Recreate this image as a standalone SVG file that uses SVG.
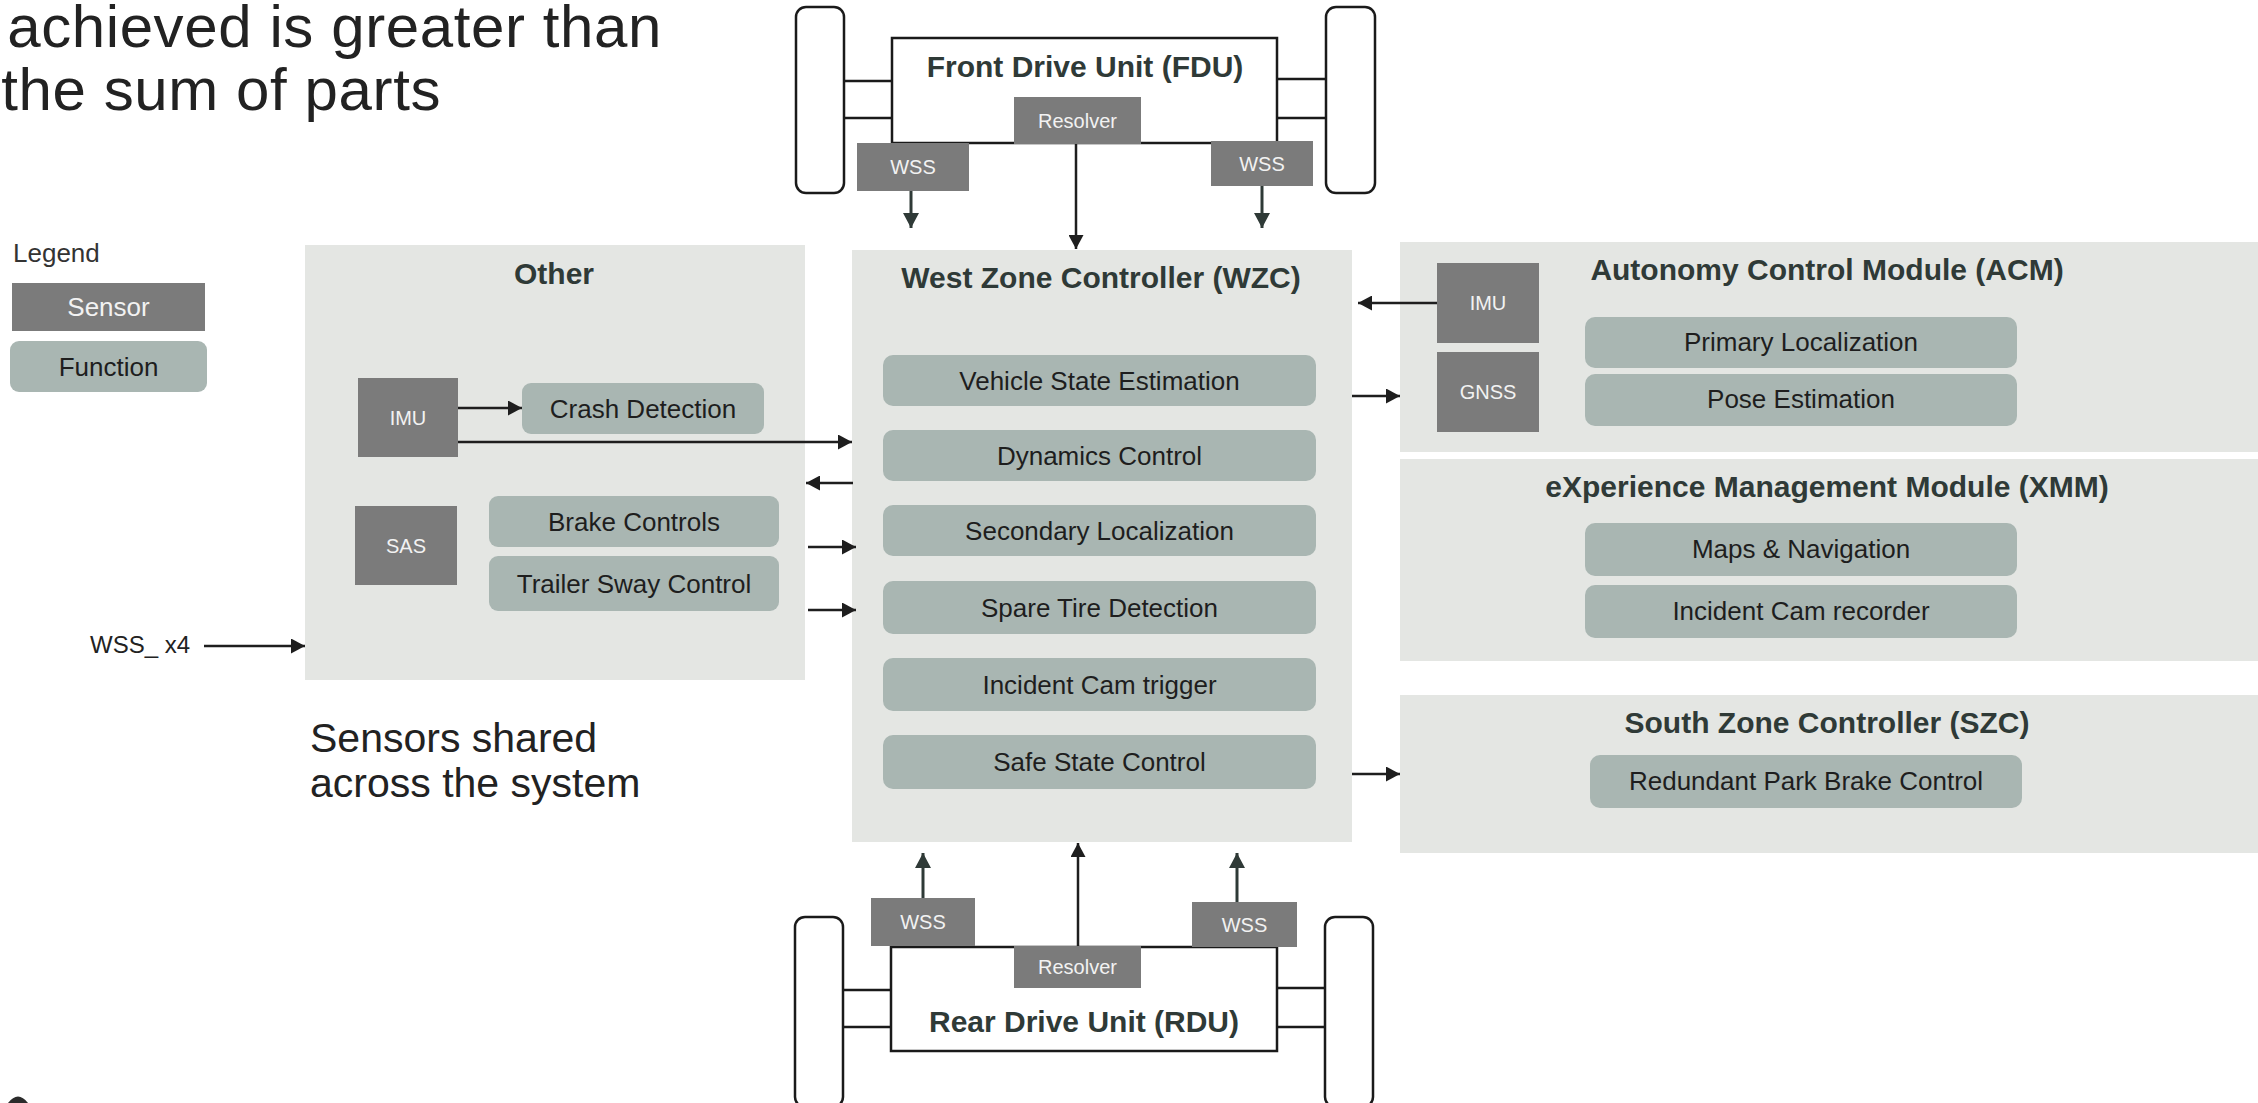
<svg xmlns="http://www.w3.org/2000/svg" width="2258" height="1103" viewBox="0 0 2258 1103">
<style>
text{font-family:"Liberation Sans",Arial,sans-serif}
.panel{fill:#e4e6e3}
.fn{fill:#a9b6b2}
.sn{fill:#7b7b7b}
.wheel{fill:#fff;stroke:#1a1a1a;stroke-width:2.5}
.unit{fill:#fff;stroke:#1a1a1a;stroke-width:2.5}
.axle{stroke:#1a1a1a;stroke-width:2.5;fill:none}
.ttl{font-size:30px;font-weight:bold;fill:#2f3a37;text-anchor:middle}
.ft{font-size:26px;fill:#1e1e1e;text-anchor:middle}
.st{font-size:20px;fill:#f2f2f2;text-anchor:middle}
.big{font-size:60px;fill:#222;letter-spacing:0.6px}
.body{font-size:41px;fill:#222}
.conn{stroke:#1e1e1e;stroke-width:2.5;fill:none;marker-end:url(#ah)}
.conn2{stroke:#2f3a37;stroke-width:3;fill:none;marker-end:url(#ah2)}
</style>
<defs>
<marker id="ah" markerUnits="userSpaceOnUse" markerWidth="15" markerHeight="15" refX="14" refY="7.5" orient="auto"><path d="M0,0 L14,7.5 L0,15 z" fill="#1e1e1e"/></marker>
<marker id="ah2" markerUnits="userSpaceOnUse" markerWidth="16" markerHeight="16" refX="15" refY="8" orient="auto"><path d="M0,0 L15,8 L0,16 z" fill="#2f3a37"/></marker>
</defs>
<rect width="2258" height="1103" fill="#fff"/>

<g id="heading">
<text class="big" x="662" y="47" text-anchor="end">achieved is greater than</text>
<text class="big" x="441" y="110" text-anchor="end">the sum of parts</text>
</g>

<g id="legend">
<text x="13" y="262" font-size="26" fill="#333">Legend</text>
<rect class="sn" x="12" y="283" width="193" height="48"/>
<text class="st" x="108.5" y="316" style="font-size:26px">Sensor</text>
<rect class="fn" x="10" y="341" width="197" height="51" rx="9"/>
<text class="ft" x="108.5" y="376">Function</text>
</g>

<g id="other">
<rect class="panel" x="305" y="245" width="500" height="435"/>
<text class="ttl" x="554" y="284">Other</text>
</g>
<g id="other-imu"><rect class="sn" x="358" y="378" width="100" height="79"/><text class="st" x="408" y="425">IMU</text></g>
<g id="crash-detection"><rect class="fn" x="522" y="383" width="242" height="51" rx="9"/><text class="ft" x="643" y="418">Crash Detection</text></g>
<g id="sas"><rect class="sn" x="355" y="506" width="102" height="79"/><text class="st" x="406" y="553">SAS</text></g>
<g id="brake-controls"><rect class="fn" x="489" y="496" width="290" height="51" rx="9"/><text class="ft" x="634" y="531">Brake Controls</text></g>
<g id="trailer-sway"><rect class="fn" x="489" y="556" width="290" height="55" rx="9"/><text class="ft" x="634" y="593">Trailer Sway Control</text></g>

<g id="wss-x4"><text x="90" y="653" font-size="24" fill="#222">WSS_ x4</text></g>
<g id="shared-note">
<text class="body" x="310" y="752">Sensors shared</text>
<text class="body" x="310" y="797">across the system</text>
</g>

<g id="wzc">
<rect class="panel" x="852" y="250" width="500" height="592"/>
<text class="ttl" x="1101" y="288">West Zone Controller (WZC)</text>
</g>
<g id="vse"><rect class="fn" x="883" y="355" width="433" height="51" rx="10"/><text class="ft" x="1099.5" y="390">Vehicle State Estimation</text></g>
<g id="dynamics"><rect class="fn" x="883" y="430" width="433" height="51" rx="10"/><text class="ft" x="1099.5" y="465">Dynamics Control</text></g>
<g id="secondary-loc"><rect class="fn" x="883" y="505" width="433" height="51" rx="10"/><text class="ft" x="1099.5" y="540">Secondary Localization</text></g>
<g id="spare-tire"><rect class="fn" x="883" y="581" width="433" height="53" rx="10"/><text class="ft" x="1099.5" y="617">Spare Tire Detection</text></g>
<g id="incident-trigger"><rect class="fn" x="883" y="658" width="433" height="53" rx="10"/><text class="ft" x="1099.5" y="694">Incident Cam trigger</text></g>
<g id="safe-state"><rect class="fn" x="883" y="735" width="433" height="54" rx="10"/><text class="ft" x="1099.5" y="771">Safe State Control</text></g>

<g id="acm">
<rect class="panel" x="1400" y="242" width="858" height="210"/>
<text class="ttl" x="1827" y="280">Autonomy Control Module (ACM)</text>
</g>
<g id="acm-imu"><rect class="sn" x="1437" y="263" width="102" height="80"/><text class="st" x="1488" y="310">IMU</text></g>
<g id="gnss"><rect class="sn" x="1437" y="352" width="102" height="80"/><text class="st" x="1488" y="399">GNSS</text></g>
<g id="primary-loc"><rect class="fn" x="1585" y="317" width="432" height="51" rx="10"/><text class="ft" x="1801" y="351">Primary Localization</text></g>
<g id="pose"><rect class="fn" x="1585" y="374" width="432" height="52" rx="10"/><text class="ft" x="1801" y="408">Pose Estimation</text></g>

<g id="xmm">
<rect class="panel" x="1400" y="459" width="858" height="202"/>
<text class="ttl" x="1827" y="497">eXperience Management Module (XMM)</text>
</g>
<g id="maps"><rect class="fn" x="1585" y="523" width="432" height="53" rx="10"/><text class="ft" x="1801" y="558">Maps &amp; Navigation</text></g>
<g id="incident-rec"><rect class="fn" x="1585" y="585" width="432" height="53" rx="10"/><text class="ft" x="1801" y="620">Incident Cam recorder</text></g>

<g id="szc">
<rect class="panel" x="1400" y="695" width="858" height="158"/>
<text class="ttl" x="1827" y="733">South Zone Controller (SZC)</text>
</g>
<g id="park-brake"><rect class="fn" x="1590" y="755" width="432" height="53" rx="10"/><text class="ft" x="1806" y="790">Redundant Park Brake Control</text></g>

<g id="fdu">
<rect class="wheel" x="796" y="7" width="48" height="186" rx="10"/>
<rect class="wheel" x="1326" y="7" width="49" height="186" rx="10"/>
<path class="axle" d="M844,81 H892 M844,118 H892 M1277,79 H1326 M1277,118 H1326"/>
<rect class="unit" x="892" y="38" width="385" height="105"/>
<text class="ttl" x="1085" y="77">Front Drive Unit (FDU)</text>
</g>
<g id="fdu-resolver"><rect class="sn" x="1014" y="97" width="127" height="47"/><text class="st" x="1077.5" y="128">Resolver</text></g>
<g id="fdu-wss-left"><rect class="sn" x="857" y="143" width="112" height="48"/><text class="st" x="913" y="174">WSS</text></g>
<g id="fdu-wss-right"><rect class="sn" x="1211" y="141" width="102" height="45"/><text class="st" x="1262" y="171">WSS</text></g>

<g id="rdu">
<rect class="wheel" x="795" y="917" width="48" height="190" rx="10"/>
<rect class="wheel" x="1325" y="917" width="48" height="190" rx="10"/>
<path class="axle" d="M843,990 H891 M843,1027 H891 M1277,988 H1325 M1277,1027 H1325"/>
<rect class="unit" x="891" y="947" width="386" height="104"/>
<text class="ttl" x="1084" y="1032">Rear Drive Unit (RDU)</text>
</g>
<g id="rdu-resolver"><rect class="sn" x="1014" y="946" width="127" height="42"/><text class="st" x="1077.5" y="974">Resolver</text></g>
<g id="rdu-wss-left"><rect class="sn" x="871" y="898" width="104" height="48"/><text class="st" x="923" y="929">WSS</text></g>
<g id="rdu-wss-right"><rect class="sn" x="1192" y="902" width="105" height="45"/><text class="st" x="1244.5" y="932">WSS</text></g>

<g id="logo-fragment"><path d="M8,1103 Q18,1090 28,1103 z" fill="#2b2b2b"/></g>

<g id="connectors">
<line class="conn" x1="458" y1="408" x2="522" y2="408"/>
<line class="conn" x1="458" y1="442" x2="852" y2="442"/>
<line class="conn" x1="853" y1="483" x2="806" y2="483"/>
<line class="conn" x1="808" y1="547" x2="856" y2="547"/>
<line class="conn" x1="808" y1="610" x2="856" y2="610"/>
<line class="conn" x1="204" y1="646" x2="305" y2="646"/>
<line class="conn" x1="1437" y1="303" x2="1358" y2="303"/>
<line class="conn" x1="1352" y1="396" x2="1400" y2="396"/>
<line class="conn" x1="1352" y1="774" x2="1400" y2="774"/>
<line class="conn2" x1="911" y1="191" x2="911" y2="228"/>
<line class="conn" x1="1076" y1="144" x2="1076" y2="249"/>
<line class="conn2" x1="1262" y1="186" x2="1262" y2="228"/>
<line class="conn2" x1="923" y1="898" x2="923" y2="853"/>
<line class="conn" x1="1078" y1="946" x2="1078" y2="843"/>
<line class="conn2" x1="1237" y1="902" x2="1237" y2="853"/>
</g>
</svg>
